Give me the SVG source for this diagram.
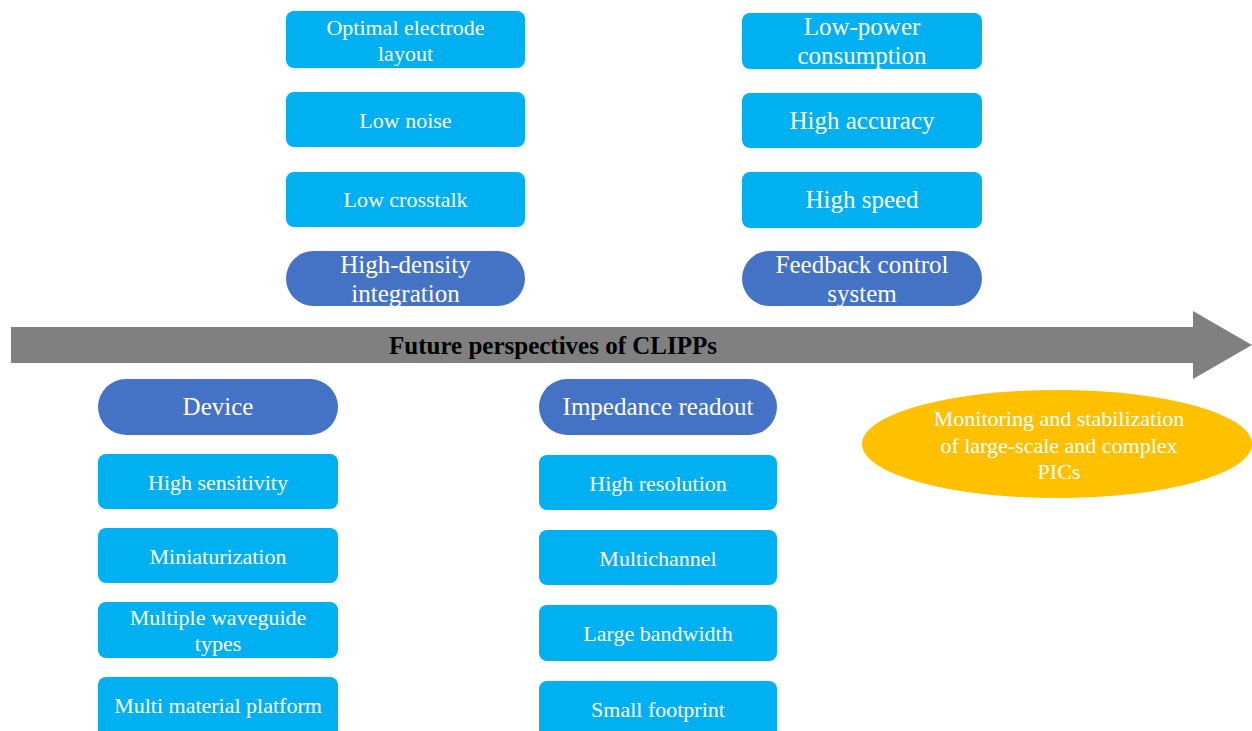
<svg xmlns="http://www.w3.org/2000/svg" width="1252" height="731" viewBox="0 0 1252 731">
<style>
.box{fill:#00B0F0}
.pill{fill:#4472C4}
.lbl{font-family:'Liberation Serif',serif;fill:#ffffff;text-anchor:middle}
.s22{font-size:22px}
.s25{font-size:25px}
.title{font-family:'Liberation Serif',serif;font-weight:bold;font-size:25px;fill:#000;text-anchor:middle}
</style>
<rect width="1252" height="731" fill="#fff"/>
<g id="connectors">
<polygon points="11,327 1193,327 1193,311 1252,345 1193,379 1193,363 11,363" fill="#808080"/>
<text class="title" x="553" y="354">Future perspectives of CLIPPs</text>
</g>
<g font-family="Liberation Serif, serif">
<g id="n-optimal"><rect class="box" x="286" y="11" width="239" height="57" rx="8"/><text class="lbl s22" x="405.5" y="35">Optimal electrode</text><text class="lbl s22" x="405.5" y="61">layout</text></g>
<g id="n-lownoise"><rect class="box" x="286" y="92" width="239" height="55" rx="8"/><text class="lbl s22" x="405.5" y="128">Low noise</text></g>
<g id="n-lowcrosstalk"><rect class="box" x="286" y="172" width="239" height="55" rx="8"/><text class="lbl s22" x="405.5" y="207">Low crosstalk</text></g>
<g id="n-highdensity"><rect class="pill" x="286" y="251" width="239" height="55" rx="27.5"/><text class="lbl s25" x="405.5" y="273">High-density</text><text class="lbl s25" x="405.5" y="302">integration</text></g>
<g id="n-lowpower"><rect class="box" x="742" y="13" width="240" height="56" rx="8"/><text class="lbl s25" x="862" y="35">Low-power</text><text class="lbl s25" x="862" y="64">consumption</text></g>
<g id="n-accuracy"><rect class="box" x="742" y="93" width="240" height="55" rx="8"/><text class="lbl s25" x="862" y="129">High accuracy</text></g>
<g id="n-speed"><rect class="box" x="742" y="172" width="240" height="56" rx="8"/><text class="lbl s25" x="862" y="208">High speed</text></g>
<g id="n-feedback"><rect class="pill" x="742" y="251" width="240" height="55" rx="27.5"/><text class="lbl s25" x="862" y="273">Feedback control</text><text class="lbl s25" x="862" y="302">system</text></g>
<g id="n-device"><rect class="pill" x="98" y="379" width="240" height="56" rx="28"/><text class="lbl s25" x="218" y="415">Device</text></g>
<g id="n-sensitivity"><rect class="box" x="98" y="454" width="240" height="55" rx="8"/><text class="lbl s22" x="218" y="490">High sensitivity</text></g>
<g id="n-mini"><rect class="box" x="98" y="528" width="240" height="55" rx="8"/><text class="lbl s22" x="218" y="564">Miniaturization</text></g>
<g id="n-waveguide"><rect class="box" x="98" y="602" width="240" height="56" rx="8"/><text class="lbl s22" x="218" y="625">Multiple waveguide</text><text class="lbl s22" x="218" y="651">types</text></g>
<g id="n-material"><rect class="box" x="98" y="677" width="240" height="62" rx="8"/><text class="lbl s22" x="218" y="713">Multi material platform</text></g>
<g id="n-impedance"><rect class="pill" x="539" y="379" width="238" height="56" rx="28"/><text class="lbl s25" x="658" y="415">Impedance readout</text></g>
<g id="n-resolution"><rect class="box" x="539" y="455" width="238" height="55" rx="8"/><text class="lbl s22" x="658" y="491">High resolution</text></g>
<g id="n-multichannel"><rect class="box" x="539" y="530" width="238" height="55" rx="8"/><text class="lbl s22" x="658" y="566">Multichannel</text></g>
<g id="n-bandwidth"><rect class="box" x="539" y="605" width="238" height="56" rx="8"/><text class="lbl s22" x="658" y="641">Large bandwidth</text></g>
<g id="n-footprint"><rect class="box" x="539" y="681" width="238" height="60" rx="8"/><text class="lbl s22" x="658" y="717">Small footprint</text></g>
<g id="n-monitoring"><ellipse cx="1057" cy="444" rx="195" ry="54" fill="#FFC000"/><text class="lbl s22" x="1059" y="426">Monitoring and stabilization</text><text class="lbl s22" x="1059" y="453">of large-scale and complex</text><text class="lbl s22" x="1059" y="479">PICs</text></g>
</g>
</svg>
